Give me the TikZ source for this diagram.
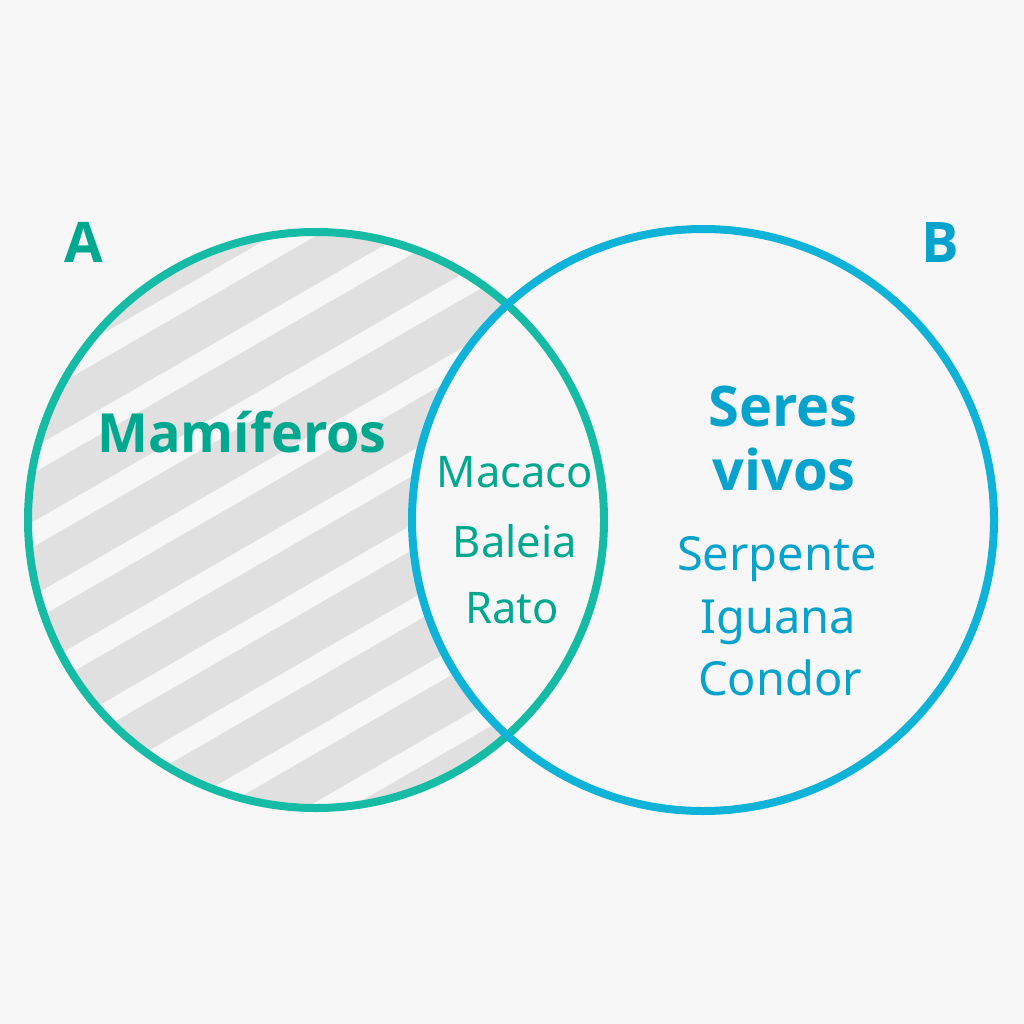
\documentclass[tikz,border=0pt]{standalone}
\usepackage{fontspec}
\setmainfont{Noto Sans}
\newfontfamily\titlefont{Open Sans}
\definecolor{bg}{HTML}{F7F7F7}
\definecolor{stripe}{HTML}{E0E0E0}
\definecolor{tealc}{HTML}{16BBA5}
\definecolor{bluec}{HTML}{10B3D8}
\definecolor{tealt}{HTML}{00A88F}
\definecolor{bluet}{HTML}{08A3CC}
\tikzset{
  setring/.style={line width=8pt},
  biglabel/.style={anchor=base, inner sep=0pt, font=\titlefont\fontsize{56}{60}\selectfont\bfseries},
  titletxt/.style={anchor=base, inner sep=0pt, font=\titlefont\fontsize{54}{60}\selectfont\bfseries},
  itemtxt/.style={anchor=base, inner sep=0pt, font=\fontsize{43.5}{50}\selectfont},
}
\begin{document}
\begin{tikzpicture}[x=1pt,y=-1pt]
\fill[bg] (0,0) rectangle (1024,1024);
\useasboundingbox (0,0) rectangle (1024,1024);
% hatched region: A minus B
\begin{scope}
  \clip (316,520) circle (288);
  \begin{scope}[shift={(316,520)}, rotate=30]
    \foreach \k in {-6,...,5} {
      \fill[stripe] (-420,{10+64*\k}) rectangle (420,{52+64*\k});
    }
  \end{scope}
  \fill[bg] (703,520) circle (291);
\end{scope}
% circles
\draw[setring, tealc] (316,520) circle (288);
\draw[setring, bluec] (703,520) circle (291);
% labels
\node[biglabel, tealt] (la) at (84,262) {A};
\node[biglabel, bluet] (lb) at (940,262) {B};
\node[titletxt, tealt] (mam) at (242,452) {Mamíferos};
\node[titletxt, bluet, font=\titlefont\fontsize{56}{60}\selectfont\bfseries] (seres) at (783,426) {Seres};
\node[titletxt, bluet, font=\titlefont\fontsize{56}{60}\selectfont\bfseries] (vivos) at (784,490) {vivos};
\node[itemtxt, tealt] (macaco) at (515,487) {Macaco};
\node[itemtxt, tealt] (baleia) at (515,557) {Baleia};
\node[itemtxt, tealt] (rato) at (512,623) {Rato};
\node[itemtxt, bluet, font=\fontsize{47}{50}\selectfont] (serp) at (777,570) {Serpente};
\node[itemtxt, bluet, font=\fontsize{47}{50}\selectfont] (igua) at (778,633) {Iguana};
\node[itemtxt, bluet, font=\fontsize{47}{50}\selectfont] (cond) at (780,695) {Condor};
\end{tikzpicture}
\end{document}
